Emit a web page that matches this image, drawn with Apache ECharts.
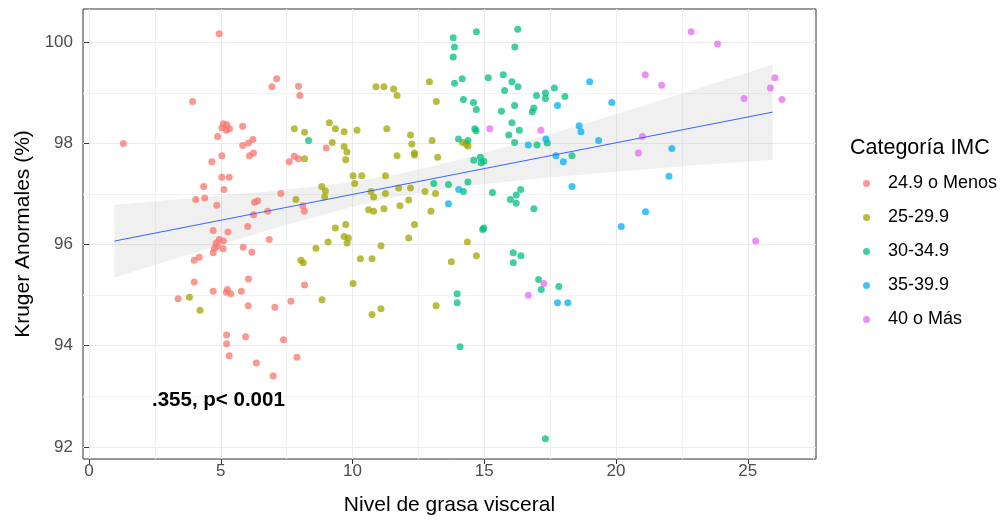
<!DOCTYPE html>
<html>
<head>
<meta charset="utf-8">
<script src="https://cdn.jsdelivr.net/npm/echarts@6/dist/echarts.min.js"></script>
<style>
  html, body { margin: 0; padding: 0; background: #fff; }
  #main { width: 1000px; height: 521px; }
</style>
</head>
<body>
<div id="main"></div>
<script>
// categorías IMC y colores (paleta ggplot)
var categories = ['24.9 o Menos', '25-29.9', '30-34.9', '35-39.9', '40 o Más'];
var colors = ['#F8766D', '#A3A500', '#00BF7D', '#00B0F6', '#E76BF3'];

// [nivel de grasa visceral, kruger anormales %]
var menos249 = [
  [4.94,100.17],[3.93,98.83],[1.30,98.0],[5.10,98.39],[5.04,98.31],[5.23,98.37],[5.33,98.29],[5.21,98.26],
  [5.83,98.34],[4.88,98.14],[5.83,97.96],[6.05,98.01],[6.22,98.08],[5.04,97.76],[6.09,97.76],[6.24,97.81],
  [4.66,97.64],[5.04,97.33],[5.32,97.33],[4.35,97.15],[5.12,97.09],[4.05,96.89],[4.39,96.92],[4.85,96.78],
  [6.28,96.84],[6.24,96.59],[6.02,96.36],[4.71,96.28],[5.27,96.25],
  [4.94,96.10],[5.10,96.07],[4.82,96.03],[4.88,95.97],[4.76,95.93],[5.09,95.92],[4.71,95.84],
  [5.85,95.95],[6.18,95.85],[3.99,95.69],[4.18,95.75],[3.99,95.26],[6.05,95.32],[4.71,95.08],[5.25,95.11],
  [5.21,95.06],[5.38,95.03],[5.78,95.08],[3.38,94.93],[6.04,94.79],[5.22,94.21],[5.94,94.18],[5.22,94.04],
  [5.32,93.80],
  [7.12,99.28],[6.94,99.12],[7.95,99.13],[8.0,98.95],[9.0,97.91],[7.79,97.75],[7.60,97.64],[7.95,97.70],
  [7.28,97.01],[6.40,96.87],[6.78,96.66],[8.11,96.77],[8.17,96.66],[6.84,96.10],
  [8.18,95.20],[7.66,94.88],[7.05,94.76],[7.38,94.12],[6.35,93.66],[7.89,93.77],[6.99,93.40]
];
var de25a29 = [
  [3.81,94.96],[4.21,94.70],
  [10.89,99.12],[11.19,99.12],[11.56,99.08],[11.69,98.95],[12.92,99.22],[13.18,98.83],[7.79,98.29],[8.18,98.22],
  [9.12,98.41],[9.35,98.29],[9.68,98.23],[10.17,98.26],[11.30,98.29],[9.23,98.02],[9.68,97.94],[9.79,97.83],
  [9.74,97.68],[8.18,97.70],[12.20,98.17],[12.25,97.99],[13.02,98.06],[11.69,97.76],[12.35,97.81],[12.35,97.77],
  [13.23,97.73],[10.02,97.36],[10.35,97.36],[10.08,97.21],[11.25,97.36],[8.83,97.15],[8.97,97.06],[8.94,96.94],
  [7.85,96.89],[10.70,97.05],[10.80,96.94],[11.25,97.01],[11.75,97.12],[12.20,97.12],[12.75,97.05],[13.15,97.01],
  [12.13,96.88],[10.61,96.69],[10.80,96.66],[11.19,96.71],[11.80,96.77],[12.98,96.66],[9.74,96.40],[9.35,96.33],
  [12.35,96.40],[9.68,96.16],[9.84,96.13],[12.13,96.13],[9.07,96.05],
  [9.79,96.03],[8.61,95.93],[8.04,95.69],[8.13,95.64],[10.30,95.72],[10.74,95.72],[11.08,95.98],[10.02,95.23],
  [8.84,94.91],[10.74,94.62],[11.08,94.73],[13.17,94.79],
  [14.18,98.02],[14.31,97.99],[14.38,97.95],[14.36,96.05],[14.70,95.78],[13.75,95.66]
];
var de30a34 = [
  [8.33,98.06],[13.08,97.21],
  [14.70,100.21],[16.27,100.26],[13.82,100.09],[13.87,99.91],[16.16,99.91],[13.82,99.71],[15.72,99.36],[15.15,99.30],
  [14.16,99.28],[13.87,99.19],[16.05,99.22],[16.28,99.12],[15.77,99.05],[17.66,99.10],[16.98,98.95],[17.32,99.0],
  [17.32,98.89],[18.06,98.93],[14.21,98.87],[14.59,98.81],[14.70,98.67],[16.15,98.75],[16.88,98.70],[16.82,98.63],
  [15.65,98.64],[14.64,98.29],[14.69,98.25],[16.05,98.41],[16.33,98.26],[15.93,98.17],[14.02,98.09],[14.38,98.06],
  [16.15,98.02],[17.0,97.97],[17.39,98.01],[14.60,97.67],[14.85,97.73],[14.98,97.65],[14.88,97.62],[18.33,97.76],
  [13.64,97.19],[14.38,97.24],[14.21,97.05],[15.31,97.03],[16.38,97.09],[16.21,96.98],[15.99,96.89],[16.21,96.82],
  [16.88,96.71],[14.94,96.30],[14.98,96.33],
  [16.10,95.84],[16.39,95.78],[16.10,95.64],[13.97,95.03],[13.97,94.85],[14.08,93.98],[17.06,95.31],[17.16,95.11],
  [17.83,95.17],[17.32,92.16]
];
var de35a39 = [
  [19.00,99.22],[19.84,98.81],[17.78,98.75],[18.60,98.35],[18.67,98.23],[17.34,98.09],[16.67,97.97],[19.34,98.06],
  [17.72,97.76],[18.0,97.64],[18.33,97.15],[14.03,97.09],[13.64,96.81],[20.20,96.36],[17.78,94.85],[18.17,94.85],
  [22.12,97.90],[22.01,97.35],[21.12,96.65]
];
var mas40 = [
  [15.21,98.29],[17.15,98.26],[17.26,95.23],[16.67,95.0],[22.85,100.21],[23.85,99.97],[21.11,99.36],[21.73,99.15],
  [26.03,99.30],[25.86,99.10],[26.30,98.87],[24.86,98.89],[21.0,98.14],[20.85,97.81],[25.30,96.07]
];
var groups = [menos249, de25a29, de30a34, de35a39, mas40];

// recta de regresión y banda de confianza
var fitX = [0.96, 25.94];
var fitY = [96.07, 98.62];
var bandX = [0.96, 4, 7, 10, 11.7, 14, 17, 20, 23, 25.94];
var bandLow = [95.35, 95.84, 96.32, 96.75, 96.95, 97.14, 97.31, 97.44, 97.57, 97.68];
var bandHigh = [96.79, 96.92, 97.06, 97.24, 97.39, 97.67, 98.11, 98.58, 99.07, 99.56];

// ejes
var xTicks = [0, 5, 10, 15, 20, 25];
var xMinor = [2.5, 7.5, 12.5, 17.5, 22.5, 27.5];
var yTicks = [92, 94, 96, 98, 100];
var yMinor = [93, 95, 97, 99];

var font = "'Liberation Sans', Arial, sans-serif";
var chart = echarts.init(document.getElementById('main'));

var series = [];
// banda de confianza
series.push({
  type: 'custom',
  silent: true,
  z: 1,
  data: [[bandX[0], bandLow[0]]],
  renderItem: function (params, api) {
    var pts = [];
    for (var i = 0; i < bandX.length; i++) pts.push(api.coord([bandX[i], bandHigh[i]]));
    for (var j = bandX.length - 1; j >= 0; j--) pts.push(api.coord([bandX[j], bandLow[j]]));
    return { type: 'polygon', shape: { points: pts }, style: { fill: 'rgba(153,153,153,0.15)' } };
  }
});
for (var g = 0; g < categories.length; g++) {
  series.push({
    name: categories[g],
    type: 'scatter',
    data: groups[g],
    symbolSize: 7,
    z: 2,
    itemStyle: { color: colors[g], opacity: 0.75 }
  });
}
series.push({
  type: 'line',
  data: [[fitX[0], fitY[0]], [fitX[1], fitY[1]]],
  showSymbol: false,
  silent: true,
  z: 3,
  lineStyle: { color: '#3366FF', width: 1 }
});

var option = {
  animation: false,
  textStyle: { fontFamily: font },
  grid: { left: 83, right: 184, top: 9, bottom: 62, show: true, borderColor: '#333333', borderWidth: 1, containLabel: false },
  legend: {
    data: categories,
    orient: 'vertical',
    left: 858,
    top: 168,
    icon: 'circle',
    itemWidth: 33,
    itemHeight: 7,
    itemGap: 13,
    textStyle: { fontSize: 18, color: '#000', lineHeight: 21, fontFamily: font }
  },
  graphic: [
    { type: 'text', z: 100, left: 850, top: 137, style: { text: 'Categoría IMC', font: '21.5px ' + font, fill: '#000' } },
    { type: 'text', z: 100, left: 152, top: 390, style: { text: '.355, p< 0.001', font: 'bold 20.5px ' + font, fill: '#000' } }
  ],
  xAxis: [{
    type: 'value',
    min: -0.23,
    max: 27.59,
    name: 'Nivel de grasa visceral',
    nameLocation: 'middle',
    nameGap: 36,
    nameTextStyle: { fontSize: 21, color: '#000' },
    axisLine: { show: false },
    axisTick: { show: true, length: 5, lineStyle: { color: '#333333' }, customValues: xTicks },
    axisLabel: { customValues: xTicks, color: '#4D4D4D', fontSize: 17, margin: 4 },
    splitLine: { show: true, lineStyle: { color: '#EBEBEB', width: 1 } }
  }, {
    type: 'value',
    min: -0.23,
    max: 27.59,
    position: 'bottom',
    axisLine: { show: false },
    axisTick: { show: false, customValues: xMinor },
    axisLabel: { show: false, customValues: xMinor },
    splitLine: { show: true, lineStyle: { color: '#F2F2F2', width: 1 } }
  }],
  yAxis: [{
    type: 'value',
    min: 91.76,
    max: 100.66,
    name: 'Kruger Anormales (%)',
    nameLocation: 'middle',
    nameGap: 49,
    nameTextStyle: { fontSize: 21, color: '#000' },
    axisLine: { show: false },
    axisTick: { show: true, length: 5, lineStyle: { color: '#333333' }, customValues: yTicks },
    axisLabel: { customValues: yTicks, color: '#4D4D4D', fontSize: 17, margin: 10 },
    splitLine: { show: true, lineStyle: { color: '#EBEBEB', width: 1 } }
  }, {
    type: 'value',
    min: 91.76,
    max: 100.66,
    position: 'left',
    axisLine: { show: false },
    axisTick: { show: false, customValues: yMinor },
    axisLabel: { show: false, customValues: yMinor },
    splitLine: { show: true, lineStyle: { color: '#F2F2F2', width: 1 } }
  }],
  series: series
};

chart.setOption(option);
</script>
</body>
</html>
